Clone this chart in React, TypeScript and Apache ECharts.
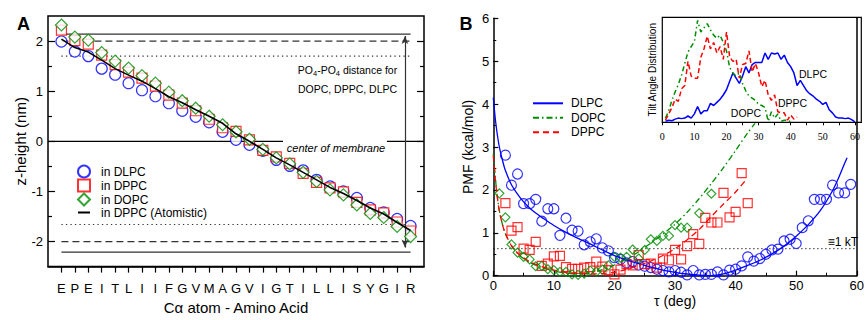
import { useEffect, useRef } from 'react';
import * as echarts from 'echarts';

// ---------- Panel A data ----------
const residues = ['E','P','E','I','T','L','I','I','F','G','V','M','A','G','V','I','G','T','I','L','L','I','S','Y','G','I','R'];
const zDLPC = [1.99,1.79,1.70,1.45,1.33,1.16,1.02,0.90,0.76,0.61,0.49,0.38,0.19,0.03,-0.07,-0.19,-0.37,-0.49,-0.58,-0.77,-0.90,-1.00,-1.13,-1.33,-1.42,-1.55,-1.69];
const zDPPC = [2.22,2.01,1.94,1.72,1.53,1.38,1.26,1.10,0.92,0.76,0.61,0.44,0.27,0.20,0.03,-0.18,-0.31,-0.44,-0.64,-0.82,-0.93,-1.01,-1.22,-1.37,-1.43,-1.61,-1.79];
const zDOPC = [2.32,2.08,2.02,1.77,1.60,1.46,1.31,1.16,0.98,0.81,0.66,0.50,0.33,0.19,0.04,-0.16,-0.33,-0.45,-0.62,-0.80,-0.97,-1.07,-1.27,-1.44,-1.52,-1.70,-1.90];
const zAtomistic = [2.04,1.87,1.78,1.62,1.45,1.32,1.20,1.05,0.89,0.77,0.63,0.50,0.36,0.15,0.0,-0.16,-0.33,-0.47,-0.62,-0.77,-0.92,-1.04,-1.18,-1.33,-1.45,-1.62,-1.78];
const solidLevels = [2.14, -2.21];
const dashedLevels = [2.0, -2.0];
const dottedLevels = [1.70, -1.66];
const zTicks = [-2, -1, 0, 1, 2];
const zMinorTicks = [-1.5, -0.5, 0.5, 1.5];
const arrowX = 25.58;
const arrowEnds = [2.1, -2.12];
const centerGapStart = 16.5;
const centerGapEnd = 24.24;

// ---------- Panel B data (PMF) ----------
const dlpcTau = [2,3,4,5,6,7,8,9,10,11,12,13,14,15,16,17,18,19,20,21,22,23,24,25,26,27,28,29,30,31,32,33,34,35,36,37,38,39,40,41,42,43,44,45,46,47,48,49,50,51,52,53,54,55,56,57,58,59];
const dlpcPmf = [2.81,2.11,2.37,1.68,1.68,1.78,1.27,1.56,1.56,0.94,1.34,1.06,1.04,0.72,0.79,0.86,0.65,0.58,0.42,0.38,0.30,0.33,0.25,0.22,0.19,0.15,0.12,0.09,0.12,0.08,0.02,0.12,0.02,0.03,0.03,0.09,0.02,0.13,0.15,0.23,0.44,0.34,0.40,0.50,0.60,0.62,0.81,0.85,0.75,1.12,1.28,1.78,1.78,1.78,2.11,1.93,1.93,2.13];
const dppcTau = [2,3,4,5,6,7,8,9,10,11,12,13,14,15,16,17,18,19,20,21,22,23,24,25,26,27,28,29,30,31,32,33,34,35,36,37,38,39,40,41,42];
const dppcPmf = [1.69,1.05,1.13,0.63,0.60,0.79,0.23,0.28,0.45,0.46,0.20,0.16,0.16,0.19,0.20,0.33,0.21,0.13,0.03,0.14,0.27,0.24,0.48,0.27,0.28,0.19,0.40,0.36,0.60,0.38,0.69,0.97,0.74,1.35,1.24,1.24,1.93,1.36,1.49,2.39,1.69];
const dopcTau = [1,2,3,4,5,6,7,8,9,10,11,12,13,14,15,16,17,18,19,20,21,22,23,24,25,26,27,28,29,30,31,32,34,36];
const dopcPmf = [1.92,1.36,0.73,0.54,0.44,0.38,0.22,0.23,0.15,0.13,0.09,0.09,0.03,0.02,0.05,0.12,0.09,0.14,0.24,0.44,0.42,0.44,0.61,0.40,0.60,0.85,0.81,0.93,0.93,1.18,1.12,1.12,1.46,1.91];
const dlpcFit = [[0,4.15],[0.3,3.7],[0.6,3.35],[1,3.0],[1.5,2.7],[2,2.45],[3,2.12],[4,1.9],[5,1.72],[6,1.58],[7,1.46],[8,1.36],[10,1.17],[12,1.01],[14,0.87],[16,0.74],[18,0.6],[20,0.47],[22,0.37],[24,0.28],[26,0.2],[28,0.13],[30,0.08],[32,0.04],[34,0.01],[36,0.0],[38,0.04],[40,0.13],[42,0.24],[44,0.36],[46,0.51],[48,0.69],[50,0.92],[52,1.19],[54,1.52],[56,1.98],[57,2.28],[58,2.62],[58.4,2.75]];
const dopcFit = [[0,2.85],[0.3,2.35],[0.6,1.92],[1,1.52],[1.5,1.2],[2,0.98],[3,0.7],[4,0.52],[5,0.4],[6,0.31],[8,0.19],[10,0.11],[12,0.06],[14,0.04],[16,0.07],[18,0.14],[20,0.25],[22,0.39],[24,0.56],[26,0.76],[28,0.97],[30,1.2],[32,1.48],[34,1.8],[36,2.15],[38,2.52],[40,2.92],[42,3.33],[43.2,3.55]];
const dppcFit = [[0,2.8],[0.3,2.3],[0.6,1.9],[1,1.5],[1.5,1.2],[2,0.98],[3,0.7],[4,0.53],[5,0.42],[6,0.33],[8,0.21],[10,0.13],[12,0.08],[14,0.05],[16,0.04],[18,0.05],[20,0.08],[22,0.15],[24,0.24],[26,0.34],[28,0.47],[30,0.63],[32,0.84],[34,1.08],[36,1.38],[38,1.67],[40,1.95],[41.8,2.25]];
const kTLevel = 0.63;

// ---------- Inset data (tilt angle distribution) ----------
const dlpcTiltAngle = [1,2,3,4,5,6,7,8,9,10,11,12,13,14,15,16,17,18,19,20,21,22,23,24,25,26,27,28,29,30,31,32,33,34,35,36,37,38,39,40,41,42,43,44,45,46,47,48,49,50,51,52,53,54,55,56,57,58,59,60];
const dlpcTilt = [1,2,1.5,3,4,3.5,4,6,4,8,15,8,11,11,18,16,19,22,26,31,39,47,42,37,44,53,47,55,57,57,57,66,60,66,65,66,60,64,57,53,47,35,40,35,30,27,25,22,20,17,19,12,9,5,4,4,3.5,4,2.5,0.5];
const dopcTiltAngle = [1,2,3,4,5,6,7,8,9,10,11,12,13,14,15,16,17,18,19,20,21,22,23,24,25,26,27,28,29,30,31,32,33,34,35,36,37,38,39,40];
const dopcTilt = [4,11,21,29,36,45,56,67,72,77,97,86,90,94,88,83,80,83,76,68,52,47,44,47,37,30,25,23,21,17,16,14,1,10,4,8,1,2,2,0.5];
const dppcTiltAngle = [1,2,3,4,5,6,7,8,9,10,11,12,13,14,15,16,17,18,19,20,21,22,23,24,25,26,27,28,29,30,31,32,33,34,35,36,37,38,39,40,41,42];
const dppcTilt = [2,8,14,22,20,32,35,58,44,42,42,62,70,82,70,76,66,72,60,86,62,58,60,42,55,56,68,48,56,47,34,40,26,21,26,10,9,9,2,7,3,5];
const insetTickValues = [0,5,10,15,20,25,30,35,40,45,50,55,60];
const insetLabelValues = [0,10,20,30,40,50,60];

const FONT = "'Liberation Sans', Arial, Helvetica, sans-serif";
const BLUE = '#0000ff';
const RED = '#ff0000';
const GREEN = '#008c00';
const INK = '#000';

const pairs = (xs: number[], ys: number[]) => xs.map((x, i) => [x, ys[i]]);
const idx = residues.map((_, i) => i);

function hLine(y: number, type: any, width = 1.3): any {
  return {
    type: 'line', xAxisIndex: 0, yAxisIndex: 0, silent: true, z: 1,
    symbol: 'none', data: [[0, y], [residues.length - 1, y]],
    lineStyle: { color: '#333', width, type },
  };
}

const hideSymbol = { opacity: 0 };

function buildOption(): any {
  const noLine = { show: false, onZero: false };
  return {
    animation: false,
    backgroundColor: '#fff',
    textStyle: { fontFamily: FONT, color: INK },
    grid: [
      { left: 48, top: 16, width: 376, height: 263, show: true, borderColor: INK, borderWidth: 1.5, backgroundColor: 'transparent' },
      { left: 493.3, top: 18.3, width: 367.7, height: 257.4, show: false },
      { left: 662.3, top: 17.3, width: 199, height: 105, show: true, backgroundColor: '#fff', borderColor: INK, borderWidth: 1.2 },
    ],
    xAxis: [
      {
        gridIndex: 0, type: 'value', min: -1, max: 27, position: 'bottom',
        axisLine: { show: true, onZero: false, lineStyle: { color: INK, width: 1.5 } },
        axisTick: { show: true, inside: false, length: 6, customValues: idx, lineStyle: { color: INK, width: 1.2 } },
        axisLabel: { customValues: idx, formatter: (v: number) => residues[Math.round(v)] ?? '', margin: 15.5, fontSize: 13, color: INK, fontFamily: FONT },
        splitLine: { show: false },
        name: 'Cα atom - Amino Acid', nameLocation: 'middle', nameGap: 32,
        nameTextStyle: { fontSize: 15, color: INK, fontFamily: FONT },
      },
      {
        gridIndex: 1, type: 'value', min: 0, max: 60, interval: 10, position: 'bottom',
        axisLine: { show: true, onZero: false, lineStyle: { color: INK, width: 1.5 } },
        axisTick: { show: true, inside: true, length: 5, lineStyle: { color: INK, width: 1.2 } },
        minorTick: { show: true, splitNumber: 2, length: 3, lineStyle: { color: INK, width: 1 } },
        axisLabel: { margin: 3, fontSize: 13, lineHeight: 13, color: INK, fontFamily: FONT },
        splitLine: { show: false }, minorSplitLine: { show: false },
        name: 'τ (deg)', nameLocation: 'middle', nameGap: 18.5, nameMoveOverlap: false,
        nameTextStyle: { fontSize: 14, lineHeight: 14, color: INK, fontFamily: FONT },
      },
      {
        gridIndex: 2, type: 'value', min: 0, max: 62, position: 'bottom',
        axisLine: { show: true, onZero: false, lineStyle: { color: INK, width: 1.2 } },
        axisTick: { show: true, inside: false, length: 3, customValues: insetTickValues, lineStyle: { color: INK, width: 1 } },
        axisLabel: { customValues: insetLabelValues, margin: 9, fontSize: 10, color: INK, fontFamily: "'Liberation Serif', 'Times New Roman', serif" },
        splitLine: { show: false },
      },
    ],
    yAxis: [
      {
        gridIndex: 0, type: 'value', min: -2.5, max: 2.5, position: 'left',
        axisLine: noLine,
        axisTick: { show: true, inside: true, length: 7, customValues: zTicks, lineStyle: { color: INK, width: 1.2 } },
        axisLabel: { customValues: zTicks, margin: 5, fontSize: 13, color: INK, fontFamily: FONT },
        splitLine: { show: false },
        name: 'z-height (nm)', nameLocation: 'middle', nameGap: 20.5,
        nameTextStyle: { fontSize: 15, color: INK, fontFamily: FONT },
      },
      {
        gridIndex: 0, type: 'value', min: -2.5, max: 2.5, position: 'left',
        axisLine: noLine, axisLabel: { show: false }, splitLine: { show: false },
        axisTick: { show: true, inside: true, length: 4, customValues: zMinorTicks, lineStyle: { color: INK, width: 1.2 } },
      },
      {
        gridIndex: 0, type: 'value', min: -2.5, max: 2.5, position: 'right',
        axisLine: noLine, axisLabel: { show: false }, splitLine: { show: false },
        axisTick: { show: true, inside: true, length: 7, customValues: zTicks, lineStyle: { color: INK, width: 1.2 } },
      },
      {
        gridIndex: 0, type: 'value', min: -2.5, max: 2.5, position: 'right',
        axisLine: noLine, axisLabel: { show: false }, splitLine: { show: false },
        axisTick: { show: true, inside: true, length: 4, customValues: zMinorTicks, lineStyle: { color: INK, width: 1.2 } },
      },
      {
        gridIndex: 1, type: 'value', min: 0, max: 6, interval: 1, position: 'left',
        axisLine: { show: true, onZero: false, lineStyle: { color: INK, width: 1.5 } },
        axisTick: { show: true, inside: true, length: 5, lineStyle: { color: INK, width: 1.2 } },
        minorTick: { show: true, splitNumber: 2, length: 3, lineStyle: { color: INK, width: 1 } },
        axisLabel: { margin: 4, fontSize: 13, color: INK, fontFamily: FONT },
        splitLine: { show: false }, minorSplitLine: { show: false },
        name: 'PMF (kcal/mol)', nameLocation: 'middle', nameGap: 18,
        nameTextStyle: { fontSize: 14, color: INK, fontFamily: FONT },
      },
      {
        gridIndex: 1, type: 'value', min: 0, max: 6, position: 'right',
        axisLine: { show: true, onZero: false, lineStyle: { color: INK, width: 1.5 } },
        axisTick: { show: false }, axisLabel: { show: false }, splitLine: { show: false },
      },
      {
        gridIndex: 2, type: 'value', min: 0, max: 100, position: 'left',
        axisLine: noLine, axisTick: { show: false }, axisLabel: { show: false }, splitLine: { show: false },
        name: 'Tilt Angle Distribution', nameLocation: 'middle', nameGap: 4.5,
        nameTextStyle: { fontSize: 10, color: INK, fontFamily: FONT },
      },
    ],
    legend: [
      {
        data: ['in DLPC', 'in DPPC', 'in DOPC', { name: 'in DPPC (Atomistic)', itemStyle: hideSymbol }],
        orient: 'vertical', left: 77, top: 164.5, padding: 0, itemWidth: 12, itemHeight: 12, itemGap: 0,
        selectedMode: false,
        textStyle: { fontSize: 12, color: INK, fontFamily: FONT, padding: [0, 0, 0, 6] },
      },
      {
        data: [
          { name: 'DLPC', itemStyle: hideSymbol },
          { name: 'DOPC', itemStyle: hideSymbol },
          { name: 'DPPC', itemStyle: hideSymbol },
        ],
        orient: 'vertical', left: 532, top: 97.3, padding: 0, itemWidth: 30, itemHeight: 10, itemGap: 2.5,
        selectedMode: false,
        textStyle: { fontSize: 12, color: INK, fontFamily: FONT, padding: [0, 0, 0, 3] },
      },
    ],
    series: [
      // Panel A reference lines
      ...solidLevels.map((y) => hLine(y, 'solid')),
      ...dashedLevels.map((y) => hLine(y, [7, 4])),
      ...dottedLevels.map((y) => hLine(y, [1.3, 3.2], 1.2)),
      {
        type: 'line', xAxisIndex: 0, yAxisIndex: 0, silent: true, z: 1, symbol: 'none',
        data: [[-1, 0], [centerGapStart, 0]], lineStyle: { color: INK, width: 1.2 },
      },
      {
        type: 'line', xAxisIndex: 0, yAxisIndex: 0, silent: true, z: 1, symbol: 'none',
        data: [[centerGapEnd, 0], [27, 0]], lineStyle: { color: INK, width: 1.2 },
        markLine: {
          silent: true, symbol: ['arrow', 'arrow'], symbolSize: [5, 8],
          label: { show: false }, lineStyle: { color: '#333', width: 1.2, type: 'solid' },
          data: [[{ coord: [arrowX, arrowEnds[0]] }, { coord: [arrowX, arrowEnds[1]] }]],
        },
      },
      {
        name: 'in DLPC', type: 'scatter', xAxisIndex: 0, yAxisIndex: 0, z: 3,
        symbol: 'circle', symbolSize: 11,
        itemStyle: { color: '#fff', borderColor: BLUE, borderWidth: 1.2 },
        data: pairs(idx, zDLPC),
      },
      {
        name: 'in DPPC', type: 'scatter', xAxisIndex: 0, yAxisIndex: 0, z: 4,
        symbol: 'rect', symbolSize: 10,
        itemStyle: { color: '#fff', borderColor: RED, borderWidth: 1.2 },
        data: pairs(idx, zDPPC),
      },
      {
        name: 'in DOPC', type: 'scatter', xAxisIndex: 0, yAxisIndex: 0, z: 5,
        symbol: 'diamond', symbolSize: 12,
        itemStyle: { color: '#fff', borderColor: GREEN, borderWidth: 1.2 },
        data: pairs(idx, zDOPC),
      },
      {
        name: 'in DPPC (Atomistic)', type: 'line', xAxisIndex: 0, yAxisIndex: 0, z: 6,
        symbol: 'none', lineStyle: { color: INK, width: 1.6 }, itemStyle: { color: INK },
        data: pairs(idx, zAtomistic),
      },
      // Panel B
      {
        type: 'line', xAxisIndex: 1, yAxisIndex: 4, silent: true, z: 1, symbol: 'none',
        data: [[0, kTLevel], [60, kTLevel]], lineStyle: { color: INK, width: 1, type: [1.2, 2.8] },
      },
      {
        name: 'DLPC points', type: 'scatter', xAxisIndex: 1, yAxisIndex: 4, z: 3,
        symbol: 'circle', symbolSize: 10,
        itemStyle: { color: 'transparent', borderColor: BLUE, borderWidth: 1.2 },
        data: pairs(dlpcTau, dlpcPmf),
      },
      {
        name: 'DPPC points', type: 'scatter', xAxisIndex: 1, yAxisIndex: 4, z: 3,
        symbol: 'rect', symbolSize: 9,
        itemStyle: { color: 'transparent', borderColor: RED, borderWidth: 1.2 },
        data: pairs(dppcTau, dppcPmf),
      },
      {
        name: 'DOPC points', type: 'scatter', xAxisIndex: 1, yAxisIndex: 4, z: 3,
        symbol: 'diamond', symbolSize: 9,
        itemStyle: { color: 'transparent', borderColor: GREEN, borderWidth: 1.2 },
        data: pairs(dopcTau, dopcPmf),
      },
      {
        name: 'DLPC', type: 'line', xAxisIndex: 1, yAxisIndex: 4, z: 4, symbol: 'none', smooth: 0.3,
        lineStyle: { color: BLUE, width: 1.3 }, itemStyle: { color: BLUE },
        data: dlpcFit,
      },
      {
        name: 'DOPC', type: 'line', xAxisIndex: 1, yAxisIndex: 4, z: 4, symbol: 'none', smooth: 0.3,
        lineStyle: { color: GREEN, width: 1.3, type: [6, 3, 1.5, 3] }, itemStyle: { color: GREEN },
        data: dopcFit,
      },
      {
        name: 'DPPC', type: 'line', xAxisIndex: 1, yAxisIndex: 4, z: 4, symbol: 'none', smooth: 0.3,
        lineStyle: { color: RED, width: 1.3, type: [6, 4] }, itemStyle: { color: RED },
        data: dppcFit,
      },
      // Inset
      {
        name: 'DLPC tilt', type: 'line', xAxisIndex: 2, yAxisIndex: 6, z: 10, symbol: 'none',
        lineStyle: { color: BLUE, width: 1.5 }, data: pairs(dlpcTiltAngle, dlpcTilt),
      },
      {
        name: 'DOPC tilt', type: 'line', xAxisIndex: 2, yAxisIndex: 6, z: 10, symbol: 'none',
        lineStyle: { color: GREEN, width: 1.5, type: [5, 3, 1.5, 3] }, data: pairs(dopcTiltAngle, dopcTilt),
      },
      {
        name: 'DPPC tilt', type: 'line', xAxisIndex: 2, yAxisIndex: 6, z: 10, symbol: 'none',
        lineStyle: { color: RED, width: 1.5, type: [5, 3] }, data: pairs(dppcTiltAngle, dppcTilt),
      },
    ],
    graphic: [
      { type: 'text', x: 23.5, y: 24, z: 100, style: { text: 'A', fontSize: 18, fontWeight: 'bold', fontFamily: FONT, fill: INK, align: 'center', verticalAlign: 'middle' } },
      { type: 'text', x: 466, y: 24, z: 100, style: { text: 'B', fontSize: 18, fontWeight: 'bold', fontFamily: FONT, fill: INK, align: 'center', verticalAlign: 'middle' } },
      { type: 'text', x: 336, y: 148.3, z: 100, style: { text: 'center of membrane', fontSize: 11, fontStyle: 'italic', fontFamily: FONT, fill: INK, align: 'center', verticalAlign: 'middle' } },
      {
        type: 'text', x: 347.5, y: 70, z: 100,
        style: {
          text: '{n|PO}{s|4}{n|-PO}{s|4}{n| distance for}', align: 'center', verticalAlign: 'middle', fill: INK,
          rich: {
            n: { fontSize: 10.5, fontFamily: FONT, lineHeight: 14, verticalAlign: 'middle', fill: INK },
            s: { fontSize: 7.5, fontFamily: FONT, lineHeight: 14, verticalAlign: 'bottom', fill: INK },
          },
        },
      },
      { type: 'text', x: 347.5, y: 89, z: 100, style: { text: 'DOPC, DPPC, DLPC', fontSize: 10.5, fontFamily: FONT, fill: INK, align: 'center', verticalAlign: 'middle' } },
      { type: 'text', x: 858, y: 241.7, z: 100, style: { text: '≡1 kT', fontSize: 12, fontFamily: FONT, fill: INK, align: 'right', verticalAlign: 'middle' } },
      { type: 'text', x: 813, y: 74, z: 100, style: { text: 'DLPC', fontSize: 10.5, fontFamily: FONT, fill: INK, align: 'center', verticalAlign: 'middle' } },
      { type: 'text', x: 792.5, y: 103, z: 100, style: { text: 'DPPC', fontSize: 10.5, fontFamily: FONT, fill: INK, align: 'center', verticalAlign: 'middle' } },
      { type: 'text', x: 746, y: 113, z: 100, style: { text: 'DOPC', fontSize: 10.5, fontFamily: FONT, fill: INK, align: 'center', verticalAlign: 'middle' } },
    ],
  };
}

export default function App() {
  const ref = useRef<HTMLDivElement>(null);
  useEffect(() => {
    if (!ref.current) return;
    const chart = echarts.init(ref.current, null, { renderer: 'svg' });
    chart.setOption(buildOption());
    return () => chart.dispose();
  }, []);
  return (
    <div
      ref={ref}
      style={{ position: 'absolute', left: 0, top: 0, width: 867, height: 320, background: '#fff' }}
    />
  );
}
